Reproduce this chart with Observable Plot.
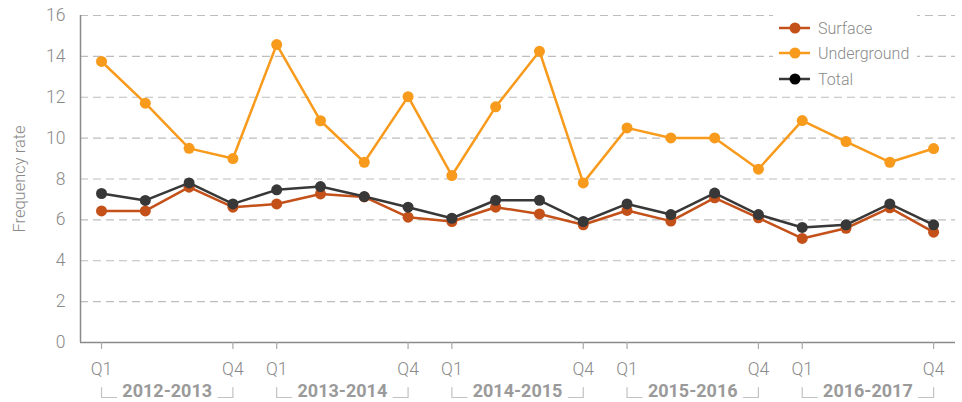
<!DOCTYPE html>
<html>
<head>
<meta charset="utf-8">
<script src="https://cdn.jsdelivr.net/npm/d3@7"></script>
<script src="https://cdn.jsdelivr.net/npm/@observablehq/plot@0.6"></script>
<style>
  html, body { margin: 0; padding: 0; background: #fff; }
  #wrap { position: relative; width: 962px; height: 402px; font-family: Roboto, "Noto Sans", sans-serif; }
  #legend { position: absolute; left: 773px; top: 9px; width: 144px; height: 84px; background: #fff; }
</style>
</head>
<body>
<div id="wrap"></div>
<script>
const periods = ["2012-2013", "2013-2014", "2014-2015", "2015-2016", "2016-2017"];
const quarters = ["Q1", "Q2", "Q3", "Q4"];
const seriesNames = ["Surface", "Underground", "Total"];
const seriesColors = ["#C4511A", "#F89A1C", "#383838"];
const legendDotColors = ["#C4511A", "#F89A1C", "#000000"];
const yTicks = [0, 2, 4, 6, 8, 10, 12, 14, 16];
const yTitle = "Frequency rate";

const surface = [6.44, 6.44, 7.6, 6.62, 6.78, 7.27, 7.12, 6.13, 5.92, 6.62, 6.29, 5.76, 6.46, 5.94, 7.08, 6.1, 5.09, 5.59, 6.59, 5.4];
const underground = [13.75, 11.71, 9.5, 9.0, 14.58, 10.85, 8.82, 12.03, 8.17, 11.53, 14.25, 7.81, 10.5, 10.01, 10.01, 8.48, 10.86, 9.83, 8.82, 9.49];
const total = [7.29, 6.95, 7.81, 6.78, 7.47, 7.63, 7.14, 6.62, 6.08, 6.96, 6.96, 5.92, 6.78, 6.26, 7.31, 6.26, 5.63, 5.76, 6.78, 5.76];

const seriesValues = [surface, underground, total];
const drawOrder = [1, 0, 2]; // underground, surface, total on top

const n = surface.length;
const xTickIdx = d3.range(n).filter(i => i % 4 === 0 || i % 4 === 3);
const xMin = -0.48;

// geometry helpers (pixel offsets converted to scale units)
const pxPerUnit = 327 / 16;
const brTop = -45 / pxPerUnit, brBot = -55 / pxPerUnit, brLen = 15 / 43.8;
const tickLen = -7 / pxPerUnit;
const brackets = [];
periods.forEach((p, g) => {
  const s = 4 * g, e = 4 * g + 3;
  brackets.push({k: `${g}L`, x: s, y: brTop}, {k: `${g}L`, x: s, y: brBot}, {k: `${g}L`, x: s + brLen, y: brBot});
  brackets.push({k: `${g}R`, x: e - brLen, y: brBot}, {k: `${g}R`, x: e, y: brBot}, {k: `${g}R`, x: e, y: brTop});
});

const labelColor = "#8a8a8a";
const marks = [
  Plot.ruleY(yTicks.filter(d => d > 0), {stroke: "#bdbdbd", strokeWidth: 1.2, strokeDasharray: "8,5"}),
  Plot.ruleY([0], {stroke: "#8a8a8a", strokeWidth: 1.5}),
  Plot.ruleX([xMin], {stroke: "#8a8a8a", strokeWidth: 1.5}),
  // y tick labels
  Plot.text(yTicks, {x: () => xMin, y: d => d, text: d => String(d), dx: -15, textAnchor: "end", fontSize: 17.5, fontWeight: 300, fill: labelColor}),
  // y title
  Plot.text([yTitle], {frameAnchor: "left", textAnchor: "middle", text: d => d, rotate: -90, dx: -61, fontSize: 16.5, fontWeight: 300, fill: labelColor}),
  // x ticks
  Plot.ruleX(xTickIdx, {x: d => d, y1: 0, y2: tickLen, stroke: "#a8a8a8", strokeWidth: 1.2}),
  // x tick labels
  Plot.text(xTickIdx, {x: d => d, y: () => 0, text: i => quarters[i % 4], dy: 27, fontSize: 17.5, fontWeight: 300, fill: labelColor}),
  // period brackets + labels
  Plot.line(brackets, {x: "x", y: "y", z: "k", stroke: "#c2c2c2", strokeWidth: 1.2}),
  Plot.text(periods, {x: (d, i) => 4 * i + 1.5, y: () => 0, text: d => d, dy: 48.5, fontSize: 18, fontWeight: "bold", fill: "#9a9a9a"})
];

for (const s of drawOrder) {
  const rows = seriesValues[s].map((v, i) => ({i, v}));
  marks.push(Plot.line(rows, {x: "i", y: "v", stroke: seriesColors[s], strokeWidth: 2.5}));
  marks.push(Plot.dot(rows, {x: "i", y: "v", r: 5.5, fill: seriesColors[s], stroke: "none"}));
}

const chart = Plot.plot({
  width: 962,
  height: 402,
  marginLeft: 80,
  marginRight: 7,
  marginTop: 15,
  marginBottom: 60,
  x: {type: "linear", domain: [xMin, 19.5], axis: null},
  y: {domain: [0, 16], axis: null},
  style: {fontFamily: "Roboto, 'Noto Sans', sans-serif", background: "#fff", overflow: "visible"},
  marks
});

const wrap = document.getElementById("wrap");
wrap.appendChild(chart);

// legend overlay
const legend = d3.select(wrap).append("div").attr("id", "legend");
const lsvg = legend.append("svg").attr("width", 144).attr("height", 84);
const rowY = [19, 44, 70];
seriesNames.forEach((name, k) => {
  const g = lsvg.append("g").attr("transform", `translate(0,${rowY[k]})`);
  g.append("line").attr("x1", 6).attr("x2", 37).attr("y1", 0).attr("y2", 0)
    .attr("stroke", seriesColors[k]).attr("stroke-width", 2.5);
  g.append("circle").attr("cx", 22).attr("cy", 0).attr("r", 5.5).attr("fill", legendDotColors[k]);
  g.append("text").attr("x", 45).attr("y", 0).attr("dy", "0.35em")
    .attr("font-size", 16).attr("font-weight", 300).attr("fill", "#8a8a8a")
    .attr("font-family", "Roboto, 'Noto Sans', sans-serif").text(name);
});
</script>
</body>
</html>
